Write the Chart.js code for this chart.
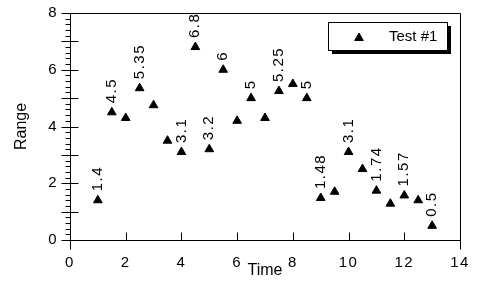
<!DOCTYPE html>
<html>
<head>
<meta charset="utf-8">
<script src="https://cdn.jsdelivr.net/npm/chart.js@4.4.1/dist/chart.umd.min.js"></script>
<style>
body { margin: 0; background: #fff; }
</style>
</head>
<body>
<canvas id="myChart" width="480" height="288"></canvas>
<script>
// dados
const serie = 'Test #1';
const tempos = [1, 1.5, 2, 2.5, 3, 3.5, 4, 4.5, 5, 5.5, 6, 6.5, 7, 7.5, 8, 8.5, 9, 9.5, 10, 10.5, 11, 11.5, 12, 12.5, 13];
const valores = [1.4, 4.5, 4.3, 5.35, 4.75, 3.5, 3.1, 6.8, 3.2, 6, 4.2, 5, 4.3, 5.25, 5.5, 5, 1.48, 1.7, 3.1, 2.5, 1.74, 1.28, 1.57, 1.4, 0.5];
const rotulos = ['1.4', '4.5', '', '5.35', '', '', '3.1', '6.8', '3.2', '6', '', '5', '', '5.25', '', '5', '1.48', '', '3.1', '', '1.74', '', '1.57', '', '0.5'];
const limitesX = [0, 14];
const limitesY = [0, 8];

const fonte = '"Liberation Sans", Arial, sans-serif';

const pontos = tempos.map((t, i) => ({ x: t, y: valores[i] }));

// moldura, marcas dos eixos, rotulos dos pontos e legenda
const moldura = {
    id: 'moldura',
    beforeDraw(chart) {
        chart.ctx.letterSpacing = '0px';
    },
    afterDatasetsDraw(chart) {
        // numeros dos eixos um pouco espacados
        chart.ctx.letterSpacing = '1.5px';
    },
    afterDraw(chart) {
        const ctx = chart.ctx;
        const a = chart.chartArea;
        const sx = chart.scales.x;
        const sy = chart.scales.y;
        const l = Math.round(a.left) + 0.5;
        const r = Math.round(a.right) + 0.5;
        const t = Math.round(a.top) + 0.5;
        const b = Math.round(a.bottom) + 0.5;

        ctx.save();
        ctx.letterSpacing = '0px';
        ctx.strokeStyle = '#000';
        ctx.lineWidth = 1;
        ctx.beginPath();
        ctx.moveTo(l, t); ctx.lineTo(r, t);
        ctx.moveTo(l, b); ctx.lineTo(r, b);
        ctx.moveTo(l, t); ctx.lineTo(l, b + 9);
        ctx.moveTo(r, t); ctx.lineTo(r, b + 9);
        for (let v = limitesX[0] + 2; v < limitesX[1]; v += 2) {
            const px = Math.round(sx.getPixelForValue(v)) + 0.5;
            ctx.moveTo(px, b); ctx.lineTo(px, b - 8);
        }
        for (let i = 0; i <= limitesY[1] * 5; i++) {
            const v = i / 5;
            const py = Math.round(sy.getPixelForValue(v)) + 0.5;
            if (i % 5 === 0) {
                ctx.moveTo(l - 9, py);
                ctx.lineTo(v > limitesY[0] && v < limitesY[1] ? l + 8 : l, py);
            } else {
                ctx.moveTo(l - 5, py);
                ctx.lineTo(l, py);
            }
        }
        ctx.stroke();

        // rotulos verticais acima dos pontos
        const meta = chart.getDatasetMeta(0);
        ctx.font = '15px ' + fonte;
        ctx.fillStyle = '#000';
        ctx.letterSpacing = '1.5px';
        ctx.textAlign = 'left';
        ctx.textBaseline = 'middle';
        meta.data.forEach((p, i) => {
            if (!rotulos[i]) return;
            ctx.save();
            ctx.translate(p.x, p.y - 9);
            ctx.rotate(-Math.PI / 2);
            ctx.fillText(rotulos[i], 0, 0);
            ctx.restore();
        });

        // legenda com sombra
        ctx.letterSpacing = '0px';
        const lx = Math.round(a.right) - 132, ly = Math.round(a.top) + 9, lw = 119, lh = 28;
        ctx.fillStyle = '#000';
        ctx.fillRect(lx + 4, ly + 4, lw, lh);
        ctx.fillStyle = '#fff';
        ctx.fillRect(lx, ly, lw, lh);
        ctx.strokeRect(lx + 0.5, ly + 0.5, lw, lh);
        ctx.fillStyle = '#000';
        const mx = lx + 31, my = ly + 16, rr = 5;
        ctx.beginPath();
        ctx.moveTo(mx, my - rr);
        ctx.lineTo(mx + rr * 0.866, my + rr / 2);
        ctx.lineTo(mx - rr * 0.866, my + rr / 2);
        ctx.closePath();
        ctx.fill();
        ctx.stroke();
        ctx.font = '15px ' + fonte;
        ctx.textBaseline = 'middle';
        ctx.fillText(serie, lx + 61, ly + 15);
        ctx.restore();
    }
};

new Chart('myChart', {
    type: 'scatter',
    data: {
        datasets: [{
            label: serie,
            data: pontos,
            pointStyle: 'triangle',
            pointRadius: 5,
            pointHoverRadius: 5,
            backgroundColor: '#000',
            borderColor: '#000',
            borderWidth: 1
        }]
    },
    options: {
        responsive: false,
        animation: false,
        events: [],
        layout: { padding: { left: 0, top: 13, right: 20, bottom: 0 } },
        plugins: {
            legend: { display: false },
            tooltip: { enabled: false }
        },
        scales: {
            x: {
                type: 'linear',
                min: limitesX[0],
                max: limitesX[1],
                afterFit(scale) {
                    scale.height = 48;
                    scale.paddingLeft = 0;
                    scale.paddingRight = 0;
                },
                grid: { display: false, drawTicks: false },
                border: { display: false },
                ticks: { stepSize: 2, padding: 14, color: '#000', font: { family: fonte, size: 15 }, z: 1 },
                title: { display: true, text: 'Time', color: '#000', font: { family: fonte, size: 16 }, padding: { top: 8, bottom: 8 } }
            },
            y: {
                min: limitesY[0],
                max: limitesY[1],
                afterFit(scale) {
                    scale.width = 70;
                    scale.paddingTop = 0;
                    scale.paddingBottom = 0;
                },
                grid: { display: false, drawTicks: false },
                border: { display: false },
                ticks: { stepSize: 2, padding: 12, color: '#000', font: { family: fonte, size: 15 }, z: 1 },
                title: { display: true, text: 'Range', color: '#000', font: { family: fonte, size: 16 }, padding: { top: 12, bottom: 12 } }
            }
        }
    },
    plugins: [moldura]
});
</script>
</body>
</html>
